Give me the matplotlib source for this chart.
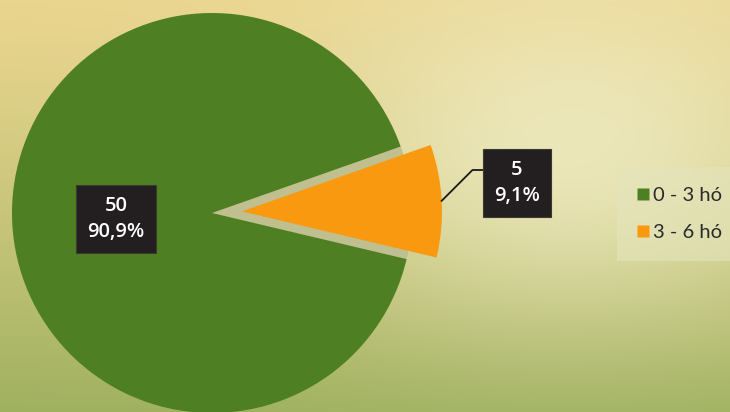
import numpy as np
import matplotlib.pyplot as plt
from matplotlib.colors import to_rgb
from matplotlib.patches import Wedge
from matplotlib.lines import Line2D

# data
labels = ['0 - 3 hó', '3 - 6 hó']
counts = [50, 5]
pct_text = ['90,9%', '9,1%']
colors = ['#4e7f22', '#f99910']

W, H = 730, 412
fig = plt.figure(figsize=(W / 100, H / 100), dpi=100)
ax = fig.add_axes([0, 0, 1, 1])

# background: yellow on top, green at the bottom, pale glow on the right
yy, xx = np.mgrid[0:H, 0:W]
t = (yy / H) ** 1.2
top = np.array(to_rgb('#ead58e'))
bot = np.array(to_rgb('#9fb160'))
img = top * (1 - t[..., None]) + bot * t[..., None]
glow = np.exp(-(((xx - 570) / 260.0) ** 2 + ((yy - 150) / 170.0) ** 2))
img = img * (1 - 0.75 * glow[..., None]) + np.array(to_rgb('#f3f0cc')) * 0.75 * glow[..., None]
ax.imshow(img, extent=[0, W, 0, H], origin='upper', zorder=0, aspect='auto')

cx, cy, r = 212, H - 213, 200
start = 19.4
explode = 0.15 * r   # pie() takes the offset in data units

wedges, _ = ax.pie(counts, colors=colors, startangle=start, radius=r,
                   center=(cx, cy), explode=[0, explode],
                   wedgeprops=dict(linewidth=0), frame=False)
for w in wedges:
    w.set_zorder(2)

# gap behind the pulled-out slice
o = wedges[1]
gap = Wedge((cx, cy), r, o.theta1, o.theta2, facecolor='#c0bf90',
            edgecolor='none', zorder=1.5)
ax.add_patch(gap)

box_kw = dict(boxstyle='square,pad=0.55', facecolor='#231f20', edgecolor='#3a3a30', linewidth=0.8)
txt_kw = dict(color='white', fontsize=14.5, fontweight='semibold', family='Open Sans',
              ha='center', va='center', linespacing=1.35, zorder=5)

# label inside the green slice
g = wedges[0]
mid = np.deg2rad((g.theta1 + g.theta2) / 2)
ax.text(cx + 0.48 * r * np.cos(mid), cy + 0.48 * r * np.sin(mid) - 1,
        f'{counts[0]}\n{pct_text[0]}', bbox=box_kw, **txt_kw)

# label outside the orange slice with leader line
mid = np.deg2rad((o.theta1 + o.theta2) / 2)
ox, oy = o.center
ex, ey = ox + r * np.cos(mid), oy + r * np.sin(mid)
ly = H - 170
ax.plot([ex, ex + (ly - ey), 483], [ey, ly, ly], color='#1a1a1a', lw=1.3, zorder=4)
ax.text(517, H - 183, f'{counts[1]}\n{pct_text[1]}', bbox=box_kw, **txt_kw)

# legend
handles = [Line2D([], [], marker='s', linestyle='none', markersize=8,
                  markerfacecolor=c, markeredgecolor='none') for c in colors]
leg = ax.legend(handles, labels, loc='center left', bbox_to_anchor=(617 / W, 1 - 214 / H),
                borderaxespad=0, frameon=True, fancybox=False, handlelength=0.6,
                handletextpad=0.2, labelspacing=1.0, borderpad=1.0,
                prop=dict(family='Lato', size=14.5))
leg.get_frame().set_facecolor('#e4e5bd')
leg.get_frame().set_alpha(0.6)
leg.get_frame().set_edgecolor('none')
for tx in leg.get_texts():
    tx.set_color('#2a2a2a')

ax.set_xlim(0, W)
ax.set_ylim(0, H)
ax.set_aspect('auto')
ax.axis('off')

fig.savefig('out.png', dpi=100)
